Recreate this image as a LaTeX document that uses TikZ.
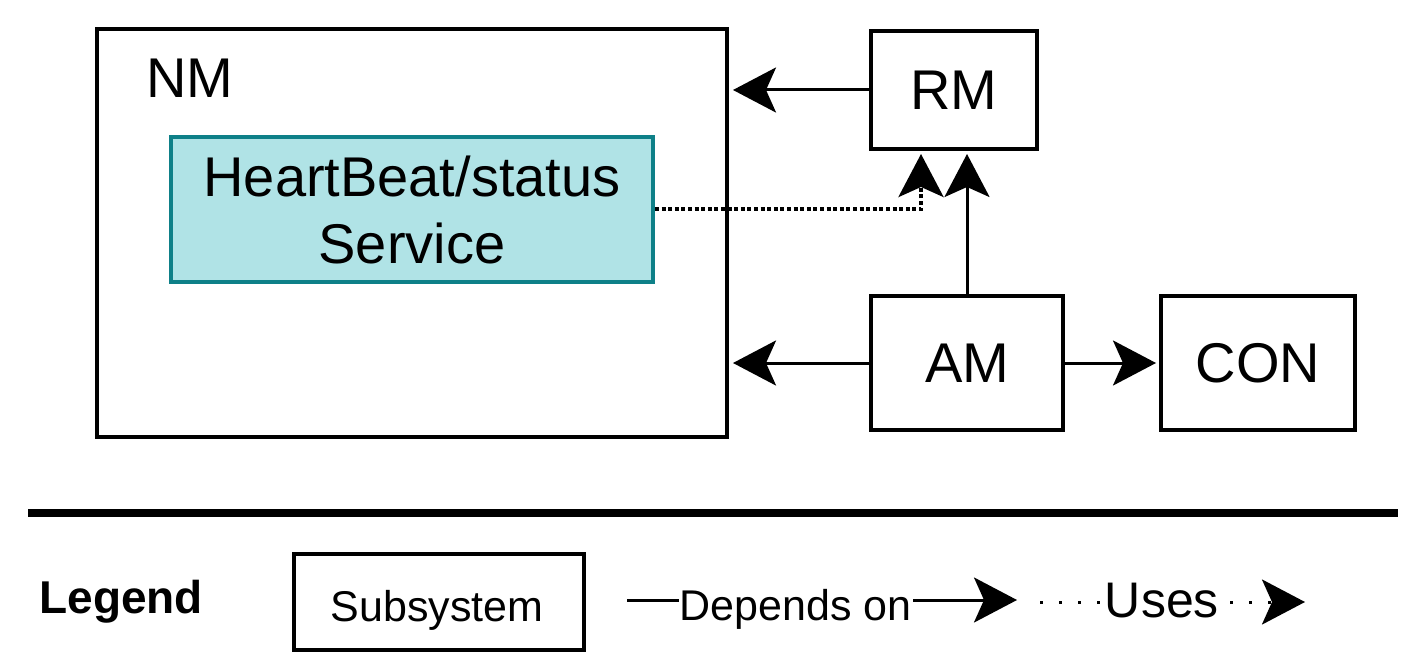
\documentclass[tikz,border=0pt]{standalone}
\usepackage{fontspec}
\setmainfont{Liberation Sans}
\usetikzlibrary{arrows.meta,positioning}
\definecolor{hbfill}{HTML}{B0E3E6}
\definecolor{hbdraw}{HTML}{0E8088}
\tikzset{
  sub/.style={draw, line width=2pt, rectangle, inner sep=0pt, font=\fontsize{28}{33.5}\selectfont, align=center},
  big/.style={font=\fontsize{28}{33.5}\selectfont, inner sep=0pt},
  small/.style={font=\fontsize{21.5}{26}\selectfont, inner sep=0pt},
  tip/.style={-{Stealth[length=21.5pt, width=22.5pt, inset=5pt]}},
  dep/.style={line width=1.5pt, tip},
  uses/.style={line width=2pt, dash pattern=on 2pt off 1.3pt, tip},
  usesleg/.style={line width=1.5pt, dash pattern=on 1.5pt off 8pt, tip},
}
\begin{document}
\begin{tikzpicture}[x=0.5pt, y=-0.5pt]
\useasboundingbox (0,0) rectangle (1402,663);
% main boxes
\node[sub, minimum width=315pt, minimum height=204pt] (NM) at (412,233) {};
\node[big] (NMlabel) at (190,78) {NM};
\node[sub, fill=hbfill, draw=hbdraw, minimum width=241pt, minimum height=72.5pt] (HB) at (412,209.5) {HeartBeat/status\\Service};
\node[sub, minimum width=83pt, minimum height=59pt] (RM) at (954,90) {RM};
\node[sub, minimum width=96pt, minimum height=67pt] (AM) at (967,363) {AM};
\node[sub, minimum width=97pt, minimum height=67pt] (CON) at (1258,363) {CON};
% connectors
\draw[dep, shorten >=2pt] (RM.west) -- (RM.west -| NM.east);
\draw[dep, shorten >=2pt] (AM.west) -- (AM.west -| NM.east);
\draw[dep, shorten >=1.5pt] (AM.east) -- (CON.west);
\draw[dep, shorten >=1.5pt] (AM.north) -- (AM.north |- RM.south);
\draw[uses, shorten >=1.5pt] (HB.east) -| ([xshift=-16.5pt]RM.south);
% separator
\coordinate (s1) at (28,513);
\coordinate (s2) at (1398,513);
\draw[line width=4pt] (s1) -- (s2);
% legend
\node[font=\fontsize{23}{28}\selectfont\bfseries, inner sep=0pt, anchor=base west] (leg) at (39,613) {Legend};
\node[draw, line width=2pt, minimum width=145pt, minimum height=48pt] (subsys) at (439,602) {};
\node[small, anchor=base] (subtxt) at (437,621) {Subsystem};
\coordinate (d1) at (627,600);
\coordinate (d2) at (1017,600);
\draw[dep] (d1) -- node[small, pos=0.433, anchor=base, yshift=-10pt, fill=white, inner sep=0.5pt] (deptxt) {Depends on} (d2);
\coordinate (u1) at (1040,602);
\coordinate (u2) at (1305,602);
\draw[usesleg] (u1) -- node[font=\fontsize{25}{30}\selectfont, pos=0.46, anchor=base, yshift=-7.5pt, fill=white, inner sep=1pt] (usestxt) {Uses} (u2);
\end{tikzpicture}
\end{document}
